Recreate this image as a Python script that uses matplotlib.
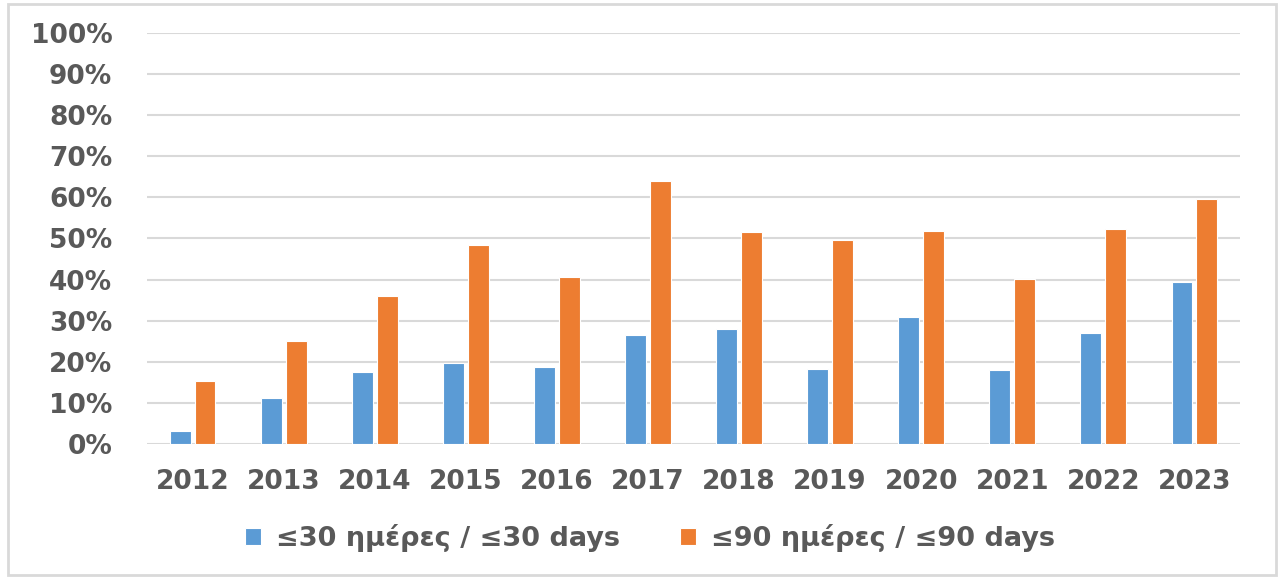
import matplotlib
matplotlib.use("Agg")
import matplotlib.pyplot as plt
import numpy as np
from matplotlib.patches import Rectangle
from matplotlib.ticker import FuncFormatter

years = ["2012", "2013", "2014", "2015", "2016", "2017", "2018", "2019", "2020", "2021", "2022", "2023"]
within_30 = [3.2, 11.3, 17.6, 19.8, 18.8, 26.6, 28.1, 18.2, 31.0, 17.9, 26.9, 39.4]
within_90 = [15.4, 25.0, 35.9, 48.5, 40.7, 64.1, 51.6, 49.7, 51.9, 40.1, 52.2, 59.7]
labels = ["≤30 ημέρες / ≤30 days", "≤90 ημέρες / ≤90 days"]

blue = "#5B9BD5"
orange = "#ED7D31"
txt = "#595959"

plt.rcParams['font.family'] = ['DejaVu Sans']

fig = plt.figure(figsize=(12.82, 5.78), dpi=100)
ax = fig.add_axes([147/1282, 1 - 444/578, (1240-147)/1282, (444-33)/578])

x = np.arange(len(years))
w = 0.23
ax.bar(x - 0.137, within_30, w, color=blue, edgecolor="white", linewidth=0.8, label=labels[0], zorder=3)
ax.bar(x + 0.137, within_90, w, color=orange, edgecolor="white", linewidth=0.8, label=labels[1], zorder=3)

ax.set_xlim(-0.5, len(years) - 0.5)
ax.set_ylim(0, 100)
ax.set_yticks(np.arange(0, 101, 10))
ax.yaxis.set_major_formatter(FuncFormatter(lambda v, p: f"{int(v)}%"))
ax.set_xticks(x)
ax.set_xticklabels(years)
ax.grid(axis="y", color="#D9D9D9", linewidth=1.5, zorder=0)
for s in ax.spines.values():
    s.set_visible(False)
ax.tick_params(axis="both", length=0, labelsize=19, labelcolor=txt)
ax.tick_params(axis="y", pad=25)
ax.tick_params(axis="x", pad=18)
for t in ax.get_xticklabels() + ax.get_yticklabels():
    t.set_fontweight("bold")

leg = fig.legend(loc="center", bbox_to_anchor=(650/1282, 1 - 538/578), ncol=2, frameon=False,
                 prop={"size": 19.5, "weight": "bold"}, handlelength=0.6, handleheight=0.6,
                 columnspacing=2.2, handletextpad=0.55)
for t in leg.get_texts():
    t.set_color(txt)

fig.patches.append(Rectangle((8/1282, 3/578), (1276-8)/1282, (574-3)/578, transform=fig.transFigure,
                             fill=False, edgecolor="#D9D9D9", linewidth=2))

fig.savefig("out.png", dpi=100)
